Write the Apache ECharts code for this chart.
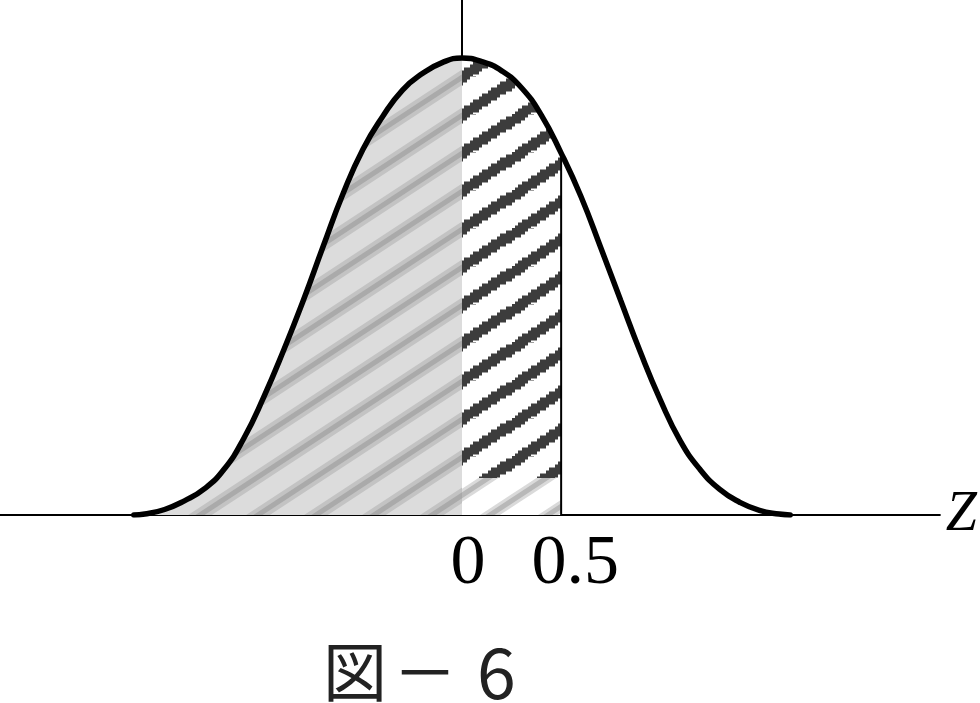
<!DOCTYPE html>
<html>
<head>
<meta charset="utf-8">
<script src="https://cdn.jsdelivr.net/npm/echarts@6/dist/echarts.min.js"></script>
<style>html,body{margin:0;padding:0;background:#fff;}#c{width:980px;height:703px;}</style>
</head>
<body>
<div id="c"></div>
<script>
// Curve: z positions and relative heights (peak = 1)
var curveZ = [-1.655,-1.6,-1.5,-1.4,-1.3,-1.2,-1.1,-1.0,-0.9,-0.8,-0.7,-0.6,-0.5,-0.4,-0.3,-0.2,-0.1,0,
              0.1,0.2,0.3,0.4,0.5,0.6,0.7,0.8,0.9,1.0,1.1,1.2,1.3,1.4,1.5,1.6,1.655];
var curveH = [0,0.002,0.012,0.031,0.057,0.10,0.168,0.258,0.36,0.47,0.588,0.703,0.80,0.872,0.93,0.966,0.99,1.0,
              0.992,0.972,0.935,0.875,0.792,0.697,0.585,0.47,0.356,0.252,0.163,0.10,0.056,0.028,0.01,0.002,0];
var boundLeft = 0;      // left shaded region ends at z = 0
var boundRight = 0.5;   // hatched region from 0 to 0.5
var lowBandH = 0.081;   // light-striped band at the bottom of the 0..0.5 region
var tickValues = [0, 0.5];
var tickLabels = ['0', '0.5'];
var axisName = 'Z';
var captionParts = ['図', '－', '6'];

function pts(from, to) {
  var out = [];
  for (var i = 0; i < curveZ.length; i++) {
    if (curveZ[i] >= from - 1e-9 && curveZ[i] <= to + 1e-9) out.push([curveZ[i], curveH[i]]);
  }
  return out;
}
var allPts = pts(-10, 10);
var leftPts = pts(-10, boundLeft);
var midPts = pts(boundLeft, boundRight);
var hAtRight = midPts[midPts.length - 1][1];

function makePattern(bg, fg, thick, jagged, soft, softW) {
  var W = 58, H = 38;
  var c = document.createElement('canvas');
  c.width = W; c.height = H;
  var g = c.getContext('2d');
  g.fillStyle = bg; g.fillRect(0, 0, W, H);
  var offs = [-H, 0, H];
  if (jagged) {
    g.fillStyle = fg;
    for (var k = 0; k < offs.length; k++) {
      for (var x = 0; x < W; x += 3) {
        var yc = Math.round((H - (x + 1.5) * H / W + offs[k]) / 3) * 3;
        g.fillRect(x, yc - thick / 2, 3, thick);
      }
    }
  } else {
    g.lineCap = 'butt';
    for (var k2 = 0; k2 < offs.length; k2++) {
      if (soft) {
        g.strokeStyle = soft; g.lineWidth = softW;
        g.beginPath(); g.moveTo(-W, 2 * H + offs[k2]); g.lineTo(2 * W, -H + offs[k2]); g.stroke();
      }
    }
    for (var k3 = 0; k3 < offs.length; k3++) {
      g.strokeStyle = fg; g.lineWidth = thick;
      g.beginPath(); g.moveTo(-W, 2 * H + offs[k3]); g.lineTo(2 * W, -H + offs[k3]); g.stroke();
    }
  }
  return { image: c, repeat: 'repeat' };
}

var leftPattern = makePattern('#dcdcdc', '#aaaaaa', 5, false, '#c3c3c3', 13);
var midPattern = makePattern('#ffffff', '#3c3c3c', 13, true);
var lowPattern = makePattern('#ffffff', '#b8b8b8', 5, false, '#dadada', 11);

var chart = echarts.init(document.getElementById('c'));
chart.setOption({
  animation: false,
  backgroundColor: '#ffffff',
  title: {
    text: '{a|' + captionParts[0] + '}{b|' + captionParts[1] + '}{c|' + captionParts[2] + '}',
    left: 318, top: 632,
    textStyle: {
      fontFamily: 'Noto Sans CJK JP', fontSize: 64, fontWeight: 'normal', color: '#222',
      rich: {
        a: { fontFamily: 'Noto Sans CJK JP', fontSize: 64, color: '#222' },
        b: { fontFamily: 'Noto Sans CJK JP', fontSize: 64, color: '#222', padding: [0, 0, 0, 6] },
        c: { fontFamily: 'Noto Sans CJK JP', fontSize: 70, color: '#222', padding: [0, 0, 0, 20] }
      }
    }
  },
  grid: { left: 0, right: 32, top: 0, bottom: 188 },
  xAxis: {
    type: 'value', min: -2.33, max: 2.41,
    name: axisName, nameLocation: 'end', nameGap: 6,
    nameTextStyle: { fontFamily: 'Liberation Serif', fontStyle: 'italic', fontSize: 56, color: '#000', padding: [0, 0, 8, 0] },
    axisLine: { show: true, onZero: true, lineStyle: { color: '#000', width: 2 } },
    axisTick: { show: false },
    splitLine: { show: false },
    axisLabel: {
      show: true, customValues: tickValues, margin: 15,
      color: '#000', fontFamily: 'Liberation Serif', fontSize: 70,
      formatter: function (v) {
        var i = tickValues.indexOf(v);
        return i === 0 ? '{a|' + tickLabels[0] + '}' : '{b|' + tickLabels[i] + '}';
      },
      rich: {
        a: { fontFamily: 'Liberation Serif', fontSize: 70, color: '#000', padding: [0, 0, 0, 12] },
        b: { fontFamily: 'Liberation Serif', fontSize: 70, color: '#000', padding: [0, 0, 0, 28] }
      }
    }
  },
  yAxis: {
    type: 'value', min: 0, max: 1.127,
    axisLine: { show: true, onZero: true, lineStyle: { color: '#000', width: 2 } },
    axisTick: { show: false }, axisLabel: { show: false }, splitLine: { show: false }
  },
  series: [
    {
      type: 'line', data: leftPts, smooth: 0.5, showSymbol: false, silent: true,
      lineStyle: { width: 0 }, areaStyle: { color: leftPattern, opacity: 1 }, z: 1
    },
    {
      type: 'line', data: midPts, smooth: 0.5, showSymbol: false, silent: true,
      lineStyle: { width: 0 }, areaStyle: { color: midPattern, opacity: 1 }, z: 1
    },
    {
      type: 'line', data: [[boundLeft, lowBandH], [boundRight, lowBandH]], showSymbol: false, silent: true,
      lineStyle: { width: 0 }, areaStyle: { color: lowPattern, opacity: 1 }, z: 2
    },
    {
      type: 'line', data: [[boundRight, 0], [boundRight, hAtRight]], showSymbol: false, silent: true,
      lineStyle: { color: '#000', width: 2 }, z: 3
    },
    {
      type: 'line', data: allPts, smooth: 0.5, showSymbol: false, silent: true,
      lineStyle: { color: '#000', width: 5.5, cap: 'round' }, z: 4
    }
  ]
});
</script>
</body>
</html>
